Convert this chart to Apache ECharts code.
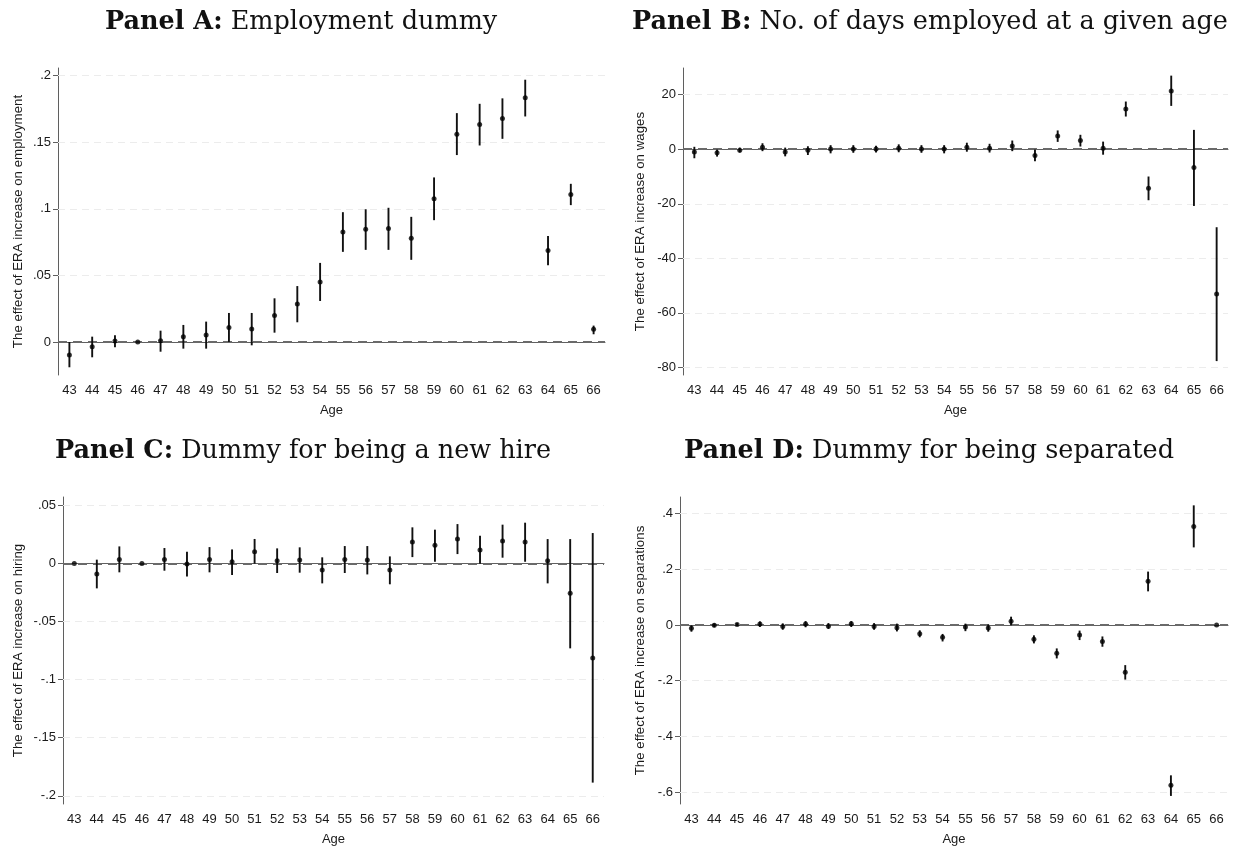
<!DOCTYPE html>
<html>
<head>
<meta charset="utf-8">
<script src="https://cdn.jsdelivr.net/npm/echarts@6/dist/echarts.min.js"></script>
<style>
html,body{margin:0;padding:0;background:#fff;}
#chart{width:1237px;height:849px;}
</style>
</head>
<body>
<div id="chart"></div>
<script>
const ages = ['43','44','45','46','47','48','49','50','51','52','53','54','55','56','57','58','59','60','61','62','63','64','65','66'];

// Panel A: Employment dummy
const empEst = [-0.0098,-0.0035,0.0008,0,0.001,0.004,0.0053,0.0108,0.0098,0.0198,0.0286,0.0451,0.0827,0.0847,0.0852,0.0779,0.1075,0.1561,0.1634,0.1679,0.1835,0.0687,0.1108,0.0095];
const empLo  = [-0.019,-0.0115,-0.004,0,-0.0073,-0.005,-0.005,0.0,-0.0025,0.007,0.0148,0.0308,0.0677,0.0692,0.0692,0.0617,0.0915,0.1404,0.1476,0.1526,0.1694,0.0576,0.1028,0.0058];
const empHi  = [0.0,0.004,0.005,0,0.0085,0.0128,0.0153,0.0218,0.0218,0.0328,0.042,0.0594,0.0975,0.0997,0.1008,0.094,0.1236,0.1719,0.1789,0.183,0.197,0.0797,0.1188,0.0123];
const empTicks = [0,0.05,0.1,0.15,0.2];

// Panel B: No. of days employed
const daysEst = [-1.0,-1.3,-0.4,0.7,-1.0,-0.4,0.1,0.1,0.1,0.4,0.1,0.1,0.7,0.4,1.2,-2.3,4.9,3.2,0.4,14.8,-14.3,21.4,-6.7,-53.1];
const daysLo  = [-3.3,-2.7,-1.2,-0.7,-2.6,-2.1,-1.5,-1.3,-1.2,-1.1,-1.3,-1.5,-0.9,-1.2,-0.7,-4.4,2.7,1.0,-2.0,12.0,-18.7,15.9,-20.8,-77.7];
const daysHi  = [0.9,-0.1,0.6,2.2,0.6,1.1,1.5,1.5,1.3,1.8,1.5,1.5,2.4,2.0,3.2,-0.1,6.9,5.3,2.8,17.5,-10.0,27.0,7.1,-28.6];
const daysTicks = [-80,-60,-40,-20,0,20];

// Panel C: new hire
const hireEst = [0,-0.0092,0.0034,0,0.0034,-0.0006,0.0034,0.0014,0.01,0.0023,0.0029,-0.0057,0.0034,0.0029,-0.0057,0.0183,0.0155,0.0209,0.0115,0.0192,0.0183,0.0023,-0.0258,-0.0814];
const hireLo  = [0,-0.0215,-0.0077,0,-0.0063,-0.0112,-0.0077,-0.01,-0.0003,-0.0083,-0.008,-0.0172,-0.0083,-0.0095,-0.018,0.0054,0.0014,0.008,-0.0003,0.0049,0.0014,-0.0172,-0.0731,-0.1886];
const hireHi  = [0,0.0032,0.0146,0,0.0132,0.01,0.014,0.012,0.021,0.0129,0.0138,0.0052,0.0149,0.0149,0.006,0.031,0.029,0.0338,0.0238,0.0333,0.035,0.0209,0.0209,0.0261];
const hireTicks = [-0.2,-0.15,-0.1,-0.05,0,0.05];

// Panel D: separated
const sepEst = [-0.012,-0.001,0.002,0.004,-0.005,0.004,-0.004,0.005,-0.005,-0.01,-0.031,-0.044,-0.007,-0.011,0.014,-0.051,-0.101,-0.036,-0.059,-0.17,0.157,-0.576,0.354,0];
const sepLo  = [-0.024,-0.008,-0.003,-0.007,-0.017,-0.008,-0.014,-0.007,-0.017,-0.023,-0.044,-0.059,-0.022,-0.024,-0.001,-0.066,-0.12,-0.054,-0.078,-0.196,0.121,-0.614,0.279,0];
const sepHi  = [-0.001,0.006,0.007,0.013,0.006,0.014,0.007,0.014,0.007,0.005,-0.019,-0.032,0.005,0.002,0.03,-0.037,-0.084,-0.02,-0.041,-0.144,0.192,-0.54,0.43,0];
const sepTicks = [-0.6,-0.4,-0.2,0,0.2,0.4];

const panels = [
  {bold:'Panel A:', rest:' Employment dummy', yName:'The effect of ERA increase on employment', est:empEst, lo:empLo, hi:empHi, ticks:empTicks, min:-0.0248, max:0.2058,
   grid:{left:58, top:68, width:547, height:307}, titlePos:{left:105, top:9}, nameGap:33},
  {bold:'Panel B:', rest:' No. of days employed at a given age', yName:'The effect of ERA increase on wages', est:daysEst, lo:daysLo, hi:daysHi, ticks:daysTicks, min:-82.8, max:29.8,
   grid:{left:683, top:68, width:545, height:307}, titlePos:{left:632, top:9}, nameGap:36},
  {bold:'Panel C:', rest:' Dummy for being a new hire', yName:'The effect of ERA increase on hiring', est:hireEst, lo:hireLo, hi:hireHi, ticks:hireTicks, min:-0.207, max:0.0571,
   grid:{left:63, top:497, width:541, height:307}, titlePos:{left:55, top:438}, nameGap:38},
  {bold:'Panel D:', rest:' Dummy for being separated', yName:'The effect of ERA increase on separations', est:sepEst, lo:sepLo, hi:sepHi, ticks:sepTicks, min:-0.643, max:0.46,
   grid:{left:680, top:497, width:548, height:307}, titlePos:{left:684, top:438}, nameGap:33}
];

function fmt(v){
  if (Math.abs(v) < 1e-9) return '0';
  let s = String(+v.toFixed(4));
  return s.replace('0.', '.');
}

const axisColor = '#5f5f5f';
const textColor = '#1a1a1a';
const titleFont = 'DejaVu Serif';
const option = {
  animation:false,
  backgroundColor:'#fff',
  title:[], grid:[], xAxis:[], yAxis:[], series:[]
};

panels.forEach((p, i) => {
  option.title.push({
    text:'{b|' + p.bold + '}' + p.rest,
    left:p.titlePos.left, top:p.titlePos.top, padding:0,
    textStyle:{fontFamily:titleFont, fontSize:25.5, fontWeight:'normal', color:'#111',
      rich:{b:{fontFamily:titleFont, fontSize:25.5, fontWeight:'bold', color:'#111'}}}
  });
  option.grid.push(Object.assign({containLabel:false}, p.grid));
  option.xAxis.push({
    type:'category', gridIndex:i, data:ages, boundaryGap:true,
    name:'Age', nameLocation:'middle', nameGap:29,
    nameTextStyle:{fontFamily:'Liberation Sans', fontSize:13, color:textColor},
    axisLine:{lineStyle:{color:axisColor, width:1}},
    axisTick:{alignWithLabel:true, length:5, lineStyle:{color:axisColor}},
    axisLabel:{interval:0, margin:9, fontFamily:'Liberation Sans', fontSize:13, color:textColor},
    splitLine:{show:false}
  });
  option.yAxis.push({
    type:'value', gridIndex:i, min:p.min, max:p.max,
    name:p.yName, nameLocation:'middle', nameGap:p.nameGap,
    nameTextStyle:{fontFamily:'Liberation Sans', fontSize:13.3, color:textColor},
    axisLine:{show:true, lineStyle:{color:axisColor, width:1}},
    axisTick:{show:true, length:5, customValues:p.ticks, lineStyle:{color:axisColor}},
    axisLabel:{customValues:p.ticks, margin:7, fontFamily:'Liberation Sans', fontSize:13, color:textColor, formatter:fmt},
    splitLine:{show:false}
  });
  const bars = ages.map((a, k) => [k, p.lo[k], p.hi[k]]);
  const gridLines = p.ticks.filter(v => Math.abs(v) > 1e-9).map(v => ({yAxis:v}));
  option.series.push({
    type:'custom', xAxisIndex:i, yAxisIndex:i, data:bars, z:3,
    renderItem:function(params, api){
      const x = api.value(0);
      const a = api.coord([x, api.value(1)]);
      const b = api.coord([x, api.value(2)]);
      return {type:'line', shape:{x1:a[0], y1:a[1], x2:b[0], y2:b[1]},
        style:{stroke:'#111', lineWidth:1.9}};
    },
    markLine:{silent:true, symbol:'none', label:{show:false}, z:1,
      lineStyle:{color:'#ececec', type:[7,5], width:1},
      data:gridLines}
  });
  option.series.push({
    type:'scatter', xAxisIndex:i, yAxisIndex:i, data:p.est,
    symbol:'circle', symbolSize:5, z:4,
    itemStyle:{color:'#000'},
    markLine:{silent:true, symbol:'none', label:{show:false}, z:2,
      lineStyle:{color:'#6a6a6a', type:[9,6], width:1.8},
      data:[{yAxis:0}]}
  });
});

const chart = echarts.init(document.getElementById('chart'), null, {renderer:'canvas'});
chart.setOption(option);
</script>
</body>
</html>
